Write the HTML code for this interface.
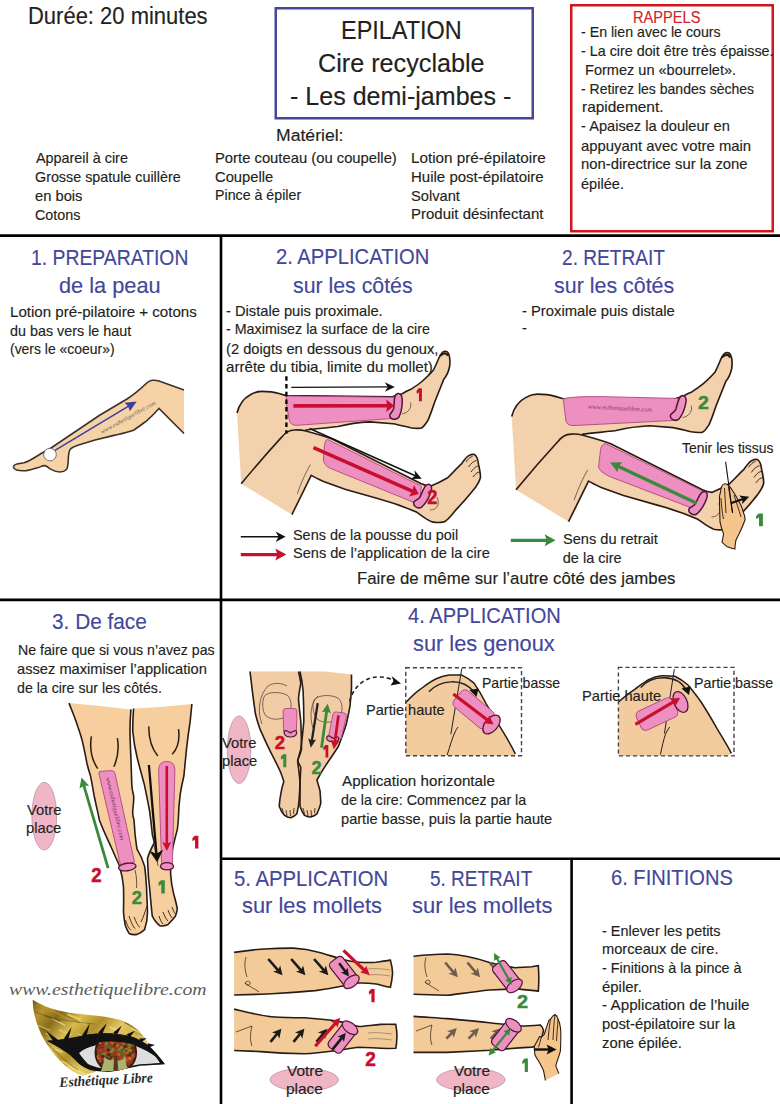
<!DOCTYPE html>
<html><head><meta charset="utf-8"><style>
html,body{margin:0;padding:0;background:#fff;}
body{width:780px;height:1104px;position:relative;overflow:hidden;font-family:"Liberation Sans",sans-serif;}
.t{position:absolute;white-space:pre;line-height:1;transform-origin:0 0;-webkit-text-stroke:0.15px currentColor;}
svg{position:absolute;left:0;top:0;}
</style></head><body>
<svg width="780" height="1104" viewBox="0 0 780 1104"><path d="M13.5,466.5 C14,463.5 19,463.6 24,462.8 C30,461 36,456.5 42,453 L51,448 L100,415 L127,399 C133,395 137,391.5 140,389.2 C145,385 148,380.6 152,380.3 C155,380 157,380.4 159,381 L184,390 L184,433.5 L159,408.5 C155,413 150,418 146,421.3 C141,425 137,428 133.5,430.3 C126,433 120,434 114,435.4 L95,440 L77,445.6 C73,447 70,448 69.6,450.5 C68.3,454 68.3,458 68.2,461 C68,465 67.8,468 66.5,469.5 C64.5,471.5 62,472 60,472 C56,472 53,470.5 51,469.4 C48.5,468 46.5,465.8 45,465.6 C42.5,465.5 40.5,466.8 38.3,467.6 C33,469.3 28,470.6 25.6,470.7 C22,470.9 18.5,470.6 16.7,470.1 C14.6,469.3 13.2,468.3 13.5,466.5 Z" fill="#f6d3a6"/><path d="M13.5,466.5 C14,463.5 19,463.6 24,462.8 C30,461 36,456.5 42,453 L51,448 L100,415 L127,399 C133,395 137,391.5 140,389.2 C145,385 148,380.6 152,380.3 C155,380 157,380.4 159,381 L184,390" fill="none" stroke="#3b322d" stroke-width="1.6"/><path d="M184,433.5 159,408.5 C155,413 150,418 146,421.3 C141,425 137,428 133.5,430.3 C126,433 120,434 114,435.4 L95,440 L77,445.6 C73,447 70,448 69.6,450.5 C68.3,454 68.3,458 68.2,461 C68,465 67.8,468 66.5,469.5 C64.5,471.5 62,472 60,472 C56,472 53,470.5 51,469.4 C48.5,468 46.5,465.8 45,465.6 C42.5,465.5 40.5,466.8 38.3,467.6 C33,469.3 28,470.6 25.6,470.7 C22,470.9 18.5,470.6 16.7,470.1 C14.6,469.3 13.2,468.3 13.5,466.5" fill="none" stroke="#3b322d" stroke-width="1.6"/><circle cx="50" cy="454.6" r="6.3" fill="#fff" stroke="#555" stroke-width="0.8"/><line x1="55.0" y1="450.3" x2="128.6" y2="406.2" stroke="#3c3fa0" stroke-width="1.5"/><path d="M136.7,401.4 L129.8,411.3 L128.2,406.5 L124.7,402.8 Z" fill="#3c3fa0"/><text x="0" y="0" transform="translate(102,434) rotate(-29)" font-family="Liberation Serif" font-style="italic" font-size="6.2" fill="#6d5d52">www.esthetiquelibre.com</text><defs><g id="legs2"><path d="M237,413 C239,405 244,398 250.4,394.7 C255,392 258,391.4 261.7,391.4 C268,391.4 274,392 279,393.5 L286,395.6 L392,396.8 C396,395.5 399,394.5 402.3,393.7 C405,392 408,390.5 410.4,389.6 C416,386 419,384 421.9,381.5 C427,377 431,373 433.5,370 C436.5,364 438,360 439.2,357.3 C440.8,354 442,352 443.8,351.5 C446,351 448,352 448.6,353.5 C450,357 450.2,362 449.6,366.5 C448.5,372 446.5,376 443.8,379.2 L434.6,402.3 C432,410 430,416 427.7,420.8 C425,425 423,428 420.8,428.3 C417,428.6 413,428.2 410.4,427.7 C404,426.2 398,424.5 393,423.7 L370,421.9 C358,422.5 348,424 338,426.5 C326,428 315,428.8 305,430.2 L295,430 L282,437 L241.2,483.8 Z" fill="#f3d1ad"/><path d="M237,413 C239,405 244,398 250.4,394.7 C255,392 258,391.4 261.7,391.4 C268,391.4 274,392 279,393.5 L286,395.6 L392,396.8 C396,395.5 399,394.5 402.3,393.7 C405,392 408,390.5 410.4,389.6 C416,386 419,384 421.9,381.5 C427,377 431,373 433.5,370 C436.5,364 438,360 439.2,357.3 C440.8,354 442,352 443.8,351.5 C446,351 448,352 448.6,353.5 C450,357 450.2,362 449.6,366.5 C448.5,372 446.5,376 443.8,379.2 L434.6,402.3 C432,410 430,416 427.7,420.8 C425,425 423,428 420.8,428.3 C417,428.6 413,428.2 410.4,427.7 C404,426.2 398,424.5 393,423.7 L370,421.9 C358,422.5 348,424 338,426.5 C326,428 315,428.8 305,430.2" fill="none" stroke="#2a1c14" stroke-width="1.6"/><path d="M241.2,483.8 C255,467 268,452 281.9,436.9 C285,433 290,430.2 294.2,430 C298,429.7 302,430 305,430.8 C315,433.5 324,436 332.7,439.2 L420.8,483.5 C424,485 427,486 430.4,486.3 C436,484 442,481 447.7,477.7 C453,472.5 457,468 461.2,464.2 C464,460.5 466,457 468.8,455.6 C471,454.5 473,454 474.6,454.6 C477,456 478,460 478.5,464.2 C479.5,469 480.8,473 480.4,477.7 C478.5,485 474,489 470.8,493.1 C465.5,500 460.5,505 455.4,510.4 C451,516 447,521 443.8,521.9 C440,522.6 436,522.6 432.3,521.9 C426,519.5 421,515 416.9,512.3 C405,507 392,502.5 378.5,498.8 L345,489.2 C336,486 329,483.5 323.5,481.5 C318,479 314,477 311.2,475.4 L291.9,514.6 Z" fill="#f3d1ad"/><path d="M241.2,483.8 C255,467 268,452 281.9,436.9 C285,433 290,430.2 294.2,430 C298,429.7 302,430 305,430.8 C315,433.5 324,436 332.7,439.2 L420.8,483.5 C424,485 427,486 430.4,486.3 C436,484 442,481 447.7,477.7 C453,472.5 457,468 461.2,464.2 C464,460.5 466,457 468.8,455.6 C471,454.5 473,454 474.6,454.6 C477,456 478,460 478.5,464.2 C479.5,469 480.8,473 480.4,477.7 C478.5,485 474,489 470.8,493.1 C465.5,500 460.5,505 455.4,510.4 C451,516 447,521 443.8,521.9 C440,522.6 436,522.6 432.3,521.9 C426,519.5 421,515 416.9,512.3 C405,507 392,502.5 378.5,498.8 L345,489.2 C336,486 329,483.5 323.5,481.5 C318,479 314,477 311.2,475.4 L291.9,514.6" fill="none" stroke="#2a1c14" stroke-width="1.6"/><path d="M440,356 C444,352 447,353 448,356" fill="none" stroke="#2a1c14" stroke-width="2.2"/><path d="M410.5,402.5 C412,408 408,413 402,414" fill="none" stroke="#2a1c14" stroke-width="0.6"/><path d="M437,497 C440,503 438,510 430,510" fill="none" stroke="#2a1c14" stroke-width="0.6"/><path d="M466,462 C468,459 470,457 472.5,456.5 M468.5,467 C471,463.5 473.5,461 476.5,460.5 M471,472 C473.5,468.5 476,466 478.8,466 M473,477 C475,474 477.5,472 480,472" fill="none" stroke="#2a1c14" stroke-width="0.9"/><path d="M297.3,493.8 C301,483 306,472 310.4,464.6" fill="none" stroke="#2a1c14" stroke-width="0.6"/></g></defs><use href="#legs2"/><path d="M286.4,396 L397,397.3 L396,418.2 L297,425.3 Q290.5,425.8 289.2,419.5 L286.4,404 Z" fill="#ee8fc2" stroke="#b0467e" stroke-width="0.9"/><path d="M327.5,439.4 L421.5,486.2 L419,504.5 L331,468.6 Q323,465.5 323.4,458 L324.5,444.5 Q325.3,439.3 327.5,439.4 Z" fill="#ee8fc2" stroke="#b0467e" stroke-width="0.9"/><path d="M2.6,-13 C5.3,-12.5 6.3,-8.5 6,-3.5 C5.8,2.5 4.3,7.5 2.6,10.8 C0.8,13 -1.7,13.1 -3.7,12.5 C-6.2,11.5 -6.9,9.5 -6.2,8 C-4.7,5.5 -2.7,4 -2.4,1.5 C-2.2,-2.5 -2,-6.5 -1.4,-9.5 C-0.7,-12 0.8,-13.2 2.6,-13 Z" transform="translate(396.2,406.5)" fill="#ee8fc2" stroke="#4d1737" stroke-width="1.5"/><path d="M2.6,-13 C5.3,-12.5 6.3,-8.5 6,-3.5 C5.8,2.5 4.3,7.5 2.6,10.8 C0.8,13 -1.7,13.1 -3.7,12.5 C-6.2,11.5 -6.9,9.5 -6.2,8 C-4.7,5.5 -2.7,4 -2.4,1.5 C-2.2,-2.5 -2,-6.5 -1.4,-9.5 C-0.7,-12 0.8,-13.2 2.6,-13 Z" transform="translate(423,496) rotate(20)" fill="#ee8fc2" stroke="#4d1737" stroke-width="1.5"/><line x1="286.4" y1="376.3" x2="286.4" y2="433.5" stroke="#000" stroke-width="2.3" stroke-dasharray="4.5 3.2"/><line x1="291.3" y1="387.4" x2="388.3" y2="386.9" stroke="#111" stroke-width="1.4"/><path d="M394.8,386.9 L384.8,391.7 L387.8,386.9 L384.8,382.2 Z" fill="#111"/><line x1="293.4" y1="405.9" x2="387.7" y2="405.8" stroke="#c8102e" stroke-width="3.6"/><path d="M394.2,405.8 L386.2,412.1 L387.2,405.8 L386.2,399.6 Z" fill="#c8102e"/><line x1="309.6" y1="428.5" x2="415.8" y2="476.0" stroke="#111" stroke-width="1.4"/><path d="M421.7,478.7 L410.6,478.9 L415.3,475.8 L414.5,470.3 Z" fill="#111"/><line x1="313.5" y1="447.7" x2="412.8" y2="491.4" stroke="#c8102e" stroke-width="3.6"/><path d="M418.8,494.0 L409.0,496.5 L412.4,491.2 L414.0,485.1 Z" fill="#c8102e"/><line x1="240.8" y1="536.7" x2="279.1" y2="536.7" stroke="#111" stroke-width="1.6"/><path d="M285.6,536.7 L275.6,542.0 L278.6,536.7 L275.6,531.5 Z" fill="#111"/><line x1="240.8" y1="554.6" x2="278.0" y2="554.6" stroke="#c8102e" stroke-width="3.3"/><path d="M286.3,554.6 L275.3,560.6 L277.5,554.6 L275.3,548.6 Z" fill="#c8102e"/><use href="#legs2" transform="matrix(1.035 0 0 1.035 266.4 -10.9)"/><path d="M563.7,398.5 C575,396.5 590,396.5 605,396.7 L680,398.5 L677,420.3 L575,425.5 Q567,426 566,421 L563.7,403 Z" fill="#ee8fc2" stroke="#b0467e" stroke-width="0.9"/><path d="M605.5,443.6 L703,491.2 L697,510 L610,476.7 Q599.5,472 598.6,466.7 L600.5,450 Q601.5,443.8 605.5,443.6 Z" fill="#ee8fc2" stroke="#b0467e" stroke-width="0.9"/><path d="M2.6,-13 C5.3,-12.5 6.3,-8.5 6,-3.5 C5.8,2.5 4.3,7.5 2.6,10.8 C0.8,13 -1.7,13.1 -3.7,12.5 C-6.2,11.5 -6.9,9.5 -6.2,8 C-4.7,5.5 -2.7,4 -2.4,1.5 C-2.2,-2.5 -2,-6.5 -1.4,-9.5 C-0.7,-12 0.8,-13.2 2.6,-13 Z" transform="translate(678.6,408) rotate(12)" fill="#ee8fc2" stroke="#4d1737" stroke-width="1.5"/><path d="M2.6,-13 C5.3,-12.5 6.3,-8.5 6,-3.5 C5.8,2.5 4.3,7.5 2.6,10.8 C0.8,13 -1.7,13.1 -3.7,12.5 C-6.2,11.5 -6.9,9.5 -6.2,8 C-4.7,5.5 -2.7,4 -2.4,1.5 C-2.2,-2.5 -2,-6.5 -1.4,-9.5 C-0.7,-12 0.8,-13.2 2.6,-13 Z" transform="translate(698.4,503) rotate(22)" fill="#ee8fc2" stroke="#4d1737" stroke-width="1.5"/><text x="0" y="0" transform="translate(588,408.5) rotate(3)" font-family="Liberation Serif" font-style="italic" font-size="6.4" fill="#8a3a6a">www.esthetiquelibre.com</text><line x1="696.7" y1="503.3" x2="618.0" y2="466.3" stroke="#3a8a3c" stroke-width="3.4"/><path d="M610.0,462.5 L622.3,462.2 L618.5,466.5 L617.6,472.2 Z" fill="#3a8a3c"/><path d="M724.6,483.8 C722,484 721,488 720.5,492 L719.5,496.2 C719.5,505 719.8,514 720,521.8 C721,527 722.5,531 723.6,534.1 C723,537 722.5,540 722,542.3 L726.7,546.4 C729,547.5 732,548.5 734.9,549 C735,546 735.3,543 735.9,540.3 C737,538 738,536 739,534.1 C741.5,529 743.5,524 745.1,519.7 C745,516 744,513.5 743.1,511.5 C742.5,509 741.8,507 741,505.4 C738,500 735.5,495 732.8,491 C731,488 729.5,486 727.7,484.9 C726.5,484 725.5,483.7 724.6,483.8 Z" fill="#f5c58c" stroke="#2a1c14" stroke-width="1.1"/><path d="M724.5,488 C725,497 725.5,505 726,513 M728.5,487 C730,496 731,504 732.5,513 M734,495 C736.5,503 739,510 741,517 M721,498 C721.5,505 722,512 723.5,519" fill="none" stroke="#2a1c14" stroke-width="0.9"/><line x1="725.6" y1="461.8" x2="732.6" y2="513" stroke="#111" stroke-width="1.1"/><line x1="730.8" y1="503.3" x2="742.9" y2="499.0" stroke="#111" stroke-width="2.2"/><path d="M749.2,496.7 L742.2,504.0 L742.4,499.1 L739.2,495.5 Z" fill="#111"/><line x1="510.8" y1="540.3" x2="547.3" y2="540.3" stroke="#3a8a3c" stroke-width="3.2"/><path d="M555.6,540.3 L544.6,546.3 L546.8,540.3 L544.6,534.3 Z" fill="#3a8a3c"/><path d="M69,703.1 C72,711 75.5,719 78,727.3 C80,733 82,739 83.3,745.3 C84.5,751 85.8,757 86.9,763.2 C88,768 89.3,772 90.5,775.8 C91.8,782 93,789 94.1,795.5 C95.8,804 97.8,812 99.4,820 C103,830 108,840 111.9,848.8 C114.5,855 117.5,861 119.6,866.2 C121.5,873 123,880 123.5,887.3 C123.8,896 123.6,904 123.5,912.3 C123.8,917 124.5,922 125.4,925.8 C126.5,929 127.8,931.5 129.2,933.5 C131.5,934.8 134,934.8 136.9,934.4 C139.8,933.5 142.5,931.5 144.6,929.6 C146.5,924 147.5,918 147.5,912.3 C147.3,904 146.8,895 146.5,887.3 C146,880 145.5,872 144.6,866.2 C142.5,859 139.5,853 136.9,848.8 C135.5,840 134.5,830 134,820 C133,817 132.5,814 132.7,811.7 C133,806 134.2,800 133.6,795.5 C132.5,791 131.9,788 131.8,784.8 C131.5,775 131.2,766 130.9,757.8 C130.5,748 130,739 130,730.9 C130,723 130.4,716 130.9,709.4 L100,706 Z" fill="#f7cf9e"/><path d="M133.6,708.5 C133,716 132.7,723 132.7,730.9 C133.5,740 135,749 137.2,757.8 C139.5,767 142,776 144.4,784.8 C146.3,794 148.2,803 149.7,811.7 C150.5,818 151.3,824 152.4,835 C153.5,839 154.2,841 154.2,843 C151.5,848 149,853 147.5,858.5 C147.8,865 148.1,871 148.5,877.7 C149.2,884 149.8,890 150.4,896.9 C151,903 151.5,910 152.3,916.2 C154.5,920.5 157,923.8 160,925.8 C162.5,926.3 165,925.7 167.7,924.8 C170.5,922 173.2,919 175.4,916.2 C176.5,913.5 177.2,911 177.3,908.5 C176.2,903 174.8,898 173.5,893.1 C172,887 171,880 170.6,873.8 C170.6,867 170.9,860 171.5,854.6 C173,846 175.3,837 177.3,829.6 C177.8,826 178.1,823 178.3,820 C178.5,812 179,803 180.3,793.7 C181.4,787 182.7,781 183.9,775.8 C184.8,767 185.6,758 186.5,748.9 C187.5,740 188.7,731 190.1,721.9 C190.7,716 191.3,710 191.9,704 L160,707 Z" fill="#f7cf9e"/><path d="M69,703.1 C72,711 75.5,719 78,727.3 C80,733 82,739 83.3,745.3 C84.5,751 85.8,757 86.9,763.2 C88,768 89.3,772 90.5,775.8 C91.8,782 93,789 94.1,795.5 C95.8,804 97.8,812 99.4,820 C103,830 108,840 111.9,848.8 C114.5,855 117.5,861 119.6,866.2 C121.5,873 123,880 123.5,887.3 C123.8,896 123.6,904 123.5,912.3 C123.8,917 124.5,922 125.4,925.8 C126.5,929 127.8,931.5 129.2,933.5 C131.5,934.8 134,934.8 136.9,934.4 C139.8,933.5 142.5,931.5 144.6,929.6 C146.5,924 147.5,918 147.5,912.3 C147.3,904 146.8,895 146.5,887.3 C146,880 145.5,872 144.6,866.2 C142.5,859 139.5,853 136.9,848.8 C135.5,840 134.5,830 134,820 C133,817 132.5,814 132.7,811.7 C133,806 134.2,800 133.6,795.5 C132.5,791 131.9,788 131.8,784.8 C131.5,775 131.2,766 130.9,757.8 C130.5,748 130,739 130,730.9 C130,723 130.4,716 130.9,709.4" fill="none" stroke="#2a1c14" stroke-width="1.6"/><path d="M133.6,708.5 C133,716 132.7,723 132.7,730.9 C133.5,740 135,749 137.2,757.8 C139.5,767 142,776 144.4,784.8 C146.3,794 148.2,803 149.7,811.7 C150.5,818 151.3,824 152.4,835 C153.5,839 154.2,841 154.2,843 C151.5,848 149,853 147.5,858.5 C147.8,865 148.1,871 148.5,877.7 C149.2,884 149.8,890 150.4,896.9 C151,903 151.5,910 152.3,916.2 C154.5,920.5 157,923.8 160,925.8 C162.5,926.3 165,925.7 167.7,924.8 C170.5,922 173.2,919 175.4,916.2 C176.5,913.5 177.2,911 177.3,908.5 C176.2,903 174.8,898 173.5,893.1 C172,887 171,880 170.6,873.8 C170.6,867 170.9,860 171.5,854.6 C173,846 175.3,837 177.3,829.6 C177.8,826 178.1,823 178.3,820 C178.5,812 179,803 180.3,793.7 C181.4,787 182.7,781 183.9,775.8 C184.8,767 185.6,758 186.5,748.9 C187.5,740 188.7,731 190.1,721.9 C190.7,716 191.3,710 191.9,704" fill="none" stroke="#2a1c14" stroke-width="1.6"/><path d="M91.4,736.3 C89.5,748 92,760 97.7,768.6 M117.4,738.1 C119,748 118,758 113.8,766.8 M148.9,726.4 C148.5,738 151.5,748 157.8,756 M178.5,729.1 C180,740 178,748 172.2,754.2" fill="none" stroke="#2a1c14" stroke-width="1.5"/><path d="M125.5,920 C127,925 129,929 131,930 M129,916 C131,922 133,927 135.5,929 M134,917 C136,922 138,926 140,927.5 M147,906 C145,912 143,918 141,922" fill="none" stroke="#2a1c14" stroke-width="0.9"/><path d="M159,916 C160,919 161,922 163,924 M163,912 C164.5,916 166,919 168,921 M168,910 C169,913 170.5,916 172,918 M172,907 C173,910 174,912 175.5,914" fill="none" stroke="#2a1c14" stroke-width="0.9"/><path d="M135,870 C136.5,876 137,882 136.5,888 M154,845 C155.5,852 157,860 158,866" fill="none" stroke="#2a1c14" stroke-width="0.7"/><path d="M99,774 Q98,771.5 101,771.3 L111.5,770.6 Q114.2,770.6 115,773.5 L134.5,862 L120.5,865 Z" fill="#ee8fc2" stroke="#b0467e" stroke-width="0.9"/><path d="M158.6,770 Q158.8,761.5 166.7,761.4 Q174.8,761.5 174.9,770 L172.4,864 L161.6,864 Z" fill="#ee8fc2" stroke="#b0467e" stroke-width="0.9"/><ellipse cx="127.3" cy="867" rx="8.8" ry="3.8" transform="rotate(-8 127.3 867)" fill="#ee8fc2" stroke="#4d1737" stroke-width="1.3"/><ellipse cx="167" cy="866.3" rx="6.6" ry="3.6" fill="#ee8fc2" stroke="#4d1737" stroke-width="1.3"/><text x="0" y="0" transform="translate(106,778) rotate(77)" font-family="Liberation Serif" font-style="italic" font-size="6.4" fill="#7a2d60">www.esthetiquelibre.com</text><line x1="166.8" y1="766.0" x2="166.8" y2="843.9" stroke="#c8102e" stroke-width="2.6"/><path d="M166.8,851.0 L162.3,842.0 L166.8,843.4 L171.3,842.0 Z" fill="#c8102e"/><line x1="148.9" y1="765.0" x2="156.5" y2="854.3" stroke="#111" stroke-width="2.3"/><path d="M157.2,862.2 L149.2,850.8 L156.5,853.8 L163.2,849.6 Z" fill="#111"/><line x1="108.1" y1="868.1" x2="83.8" y2="785.3" stroke="#3a8a3c" stroke-width="2.8"/><path d="M81.5,777.6 L89.1,785.8 L83.9,785.8 L79.5,788.6 Z" fill="#3a8a3c"/><ellipse cx="44.25" cy="816.2" rx="12.4" ry="33.9" fill="#f1b6c5" stroke="#a88090" stroke-width="0.6"/><path d="M250,671.5 C250.8,678 251.6,684 252.3,690.8 C253.3,698 254.3,706 255.4,713.8 C256.6,719 258.2,724 260,729.2 C263.5,737 267,745 270.8,752.3 C274,758.5 277,764.5 280,770.8 C281.5,774.5 282.8,778 283.8,781.5 C282.5,785.5 281.5,789.5 280.8,793.8 C280,798 279.5,802 279.2,806.2 C280.5,810 282.3,813 284.6,815.4 C286.5,817 288.6,817.8 290.8,817.7 C293,817 295.2,815.7 296.9,813.8 C298.2,808.5 299,803.5 299.2,798.5 C299.6,792.5 300,787 300,781.5 C299.5,776.5 299,772 298.5,767.7 C298,765 297.7,762.5 297.7,760 C299.3,756.5 300.8,753 301.5,749.2 C301.5,740 301.2,730 300.8,721.5 C300,714 299,706 298.5,698.5 C299,693 300,688 300.8,683.1 C300.2,679 299.4,675 298.5,671.5 Z" fill="#f2cca4"/><path d="M300,671.5 C301.5,678 302.5,684 303.1,690.8 C303.6,701 303.8,711 303.8,721.5 C303,731 302,740 300.8,749.2 C299.5,753.5 298.4,757.5 297.7,761.5 C298.8,763.5 300,765.5 300.8,767.7 C300.5,773 300.2,778 300,783.1 C300,791 300,799 300,806.2 C301.2,810 302.7,813 304.6,815.4 C306.5,816.6 308.6,817.1 310.8,816.9 C313,816.3 315.2,815.2 316.9,813.8 C318.5,810.5 320,807 320.8,803.1 C320.6,799 320.4,795 320,790.8 C319,787 318,783.5 316.9,780 C320,774.5 323,769.5 326.2,764.6 C330.3,758.5 334.5,752.5 338.5,746.2 C341.2,739 343.8,732 346.2,724.6 C347.6,718.5 348.9,712.5 350,706.2 C350.6,700 351.1,694 351.5,687.7 C351.5,683 351.5,679 351.5,674.6 L325,671.5 Z" fill="#f2cca4"/><path d="M250,671.5 C250.8,678 251.6,684 252.3,690.8 C253.3,698 254.3,706 255.4,713.8 C256.6,719 258.2,724 260,729.2 C263.5,737 267,745 270.8,752.3 C274,758.5 277,764.5 280,770.8 C281.5,774.5 282.8,778 283.8,781.5 C282.5,785.5 281.5,789.5 280.8,793.8 C280,798 279.5,802 279.2,806.2 C280.5,810 282.3,813 284.6,815.4 C286.5,817 288.6,817.8 290.8,817.7 C293,817 295.2,815.7 296.9,813.8 C298.2,808.5 299,803.5 299.2,798.5 C299.6,792.5 300,787 300,781.5 C299.5,776.5 299,772 298.5,767.7 C298,765 297.7,762.5 297.7,760 C299.3,756.5 300.8,753 301.5,749.2 C301.5,740 301.2,730 300.8,721.5 C300,714 299,706 298.5,698.5 C299,693 300,688 300.8,683.1 C300.2,679 299.4,675 298.5,671.5" fill="none" stroke="#2a1c14" stroke-width="1.6"/><path d="M300,671.5 C301.5,678 302.5,684 303.1,690.8 C303.6,701 303.8,711 303.8,721.5 C303,731 302,740 300.8,749.2 C299.5,753.5 298.4,757.5 297.7,761.5 C298.8,763.5 300,765.5 300.8,767.7 C300.5,773 300.2,778 300,783.1 C300,791 300,799 300,806.2 C301.2,810 302.7,813 304.6,815.4 C306.5,816.6 308.6,817.1 310.8,816.9 C313,816.3 315.2,815.2 316.9,813.8 C318.5,810.5 320,807 320.8,803.1 C320.6,799 320.4,795 320,790.8 C319,787 318,783.5 316.9,780 C320,774.5 323,769.5 326.2,764.6 C330.3,758.5 334.5,752.5 338.5,746.2 C341.2,739 343.8,732 346.2,724.6 C347.6,718.5 348.9,712.5 350,706.2 C350.6,700 351.1,694 351.5,687.7 C351.5,683 351.5,679 351.5,674.6" fill="none" stroke="#2a1c14" stroke-width="1.6"/><path d="M264,697 C266,692 278,691 287,695 C292,699 292,708 289,714 C284,720 272,721 266,716 C262,711 262,702 264,697 Z" fill="none" stroke="#5a4a40" stroke-width="0.8"/><path d="M262,724 C257,712 259,695 268,686 C274,682 282,683 287,686" fill="none" stroke="#5a4a40" stroke-width="0.8"/><path d="M314,700 C318,695 330,694 338,698 C343,702 343,711 340,717 C335,723 323,724 317,719 C313,714 312,705 314,700 Z" fill="none" stroke="#5a4a40" stroke-width="0.8"/><path d="M313,728 C309,716 311,702 318,696" fill="none" stroke="#5a4a40" stroke-width="0.8"/><path d="M282,808 L283.5,814 M286,810 L287,816 M290,810 L290.5,816 M294,808 L293.5,814 M303,808 L304.5,814 M307,810 L308,816 M311,810 L311.5,816 M315,808 L314.5,813" fill="none" stroke="#2a1c14" stroke-width="0.8"/><path d="M283.1,711 Q283.1,708.5 286,708.5 L294,708.5 Q296.9,708.5 296.9,711 L296.4,731.8 L283.6,731.8 Z" fill="#ee8fc2" stroke="#b0467e" stroke-width="0.9"/><path d="M284.6,731 C287,729 289,733 290.5,733 C292,733 294,729 296.2,731 C297.5,733 296.5,737 290.4,737 C284.5,737 283.5,733 284.6,731 Z" fill="#ee8fc2" stroke="#4d1737" stroke-width="1.2"/><path d="M333,714 Q333.5,711.5 336.5,712 L344,713 Q347,713.5 346.4,716.5 L341,739 L328.5,737 Z" fill="#ee8fc2" stroke="#b0467e" stroke-width="0.9"/><path d="M327,736.5 C329.5,734.5 331.5,738 333,738.2 C334.5,738.4 337,735.5 338.5,737.5 C339.5,739.5 338,742 332.5,741.8 C327,741.5 325.8,738.5 327,736.5 Z" fill="#ee8fc2" stroke="#4d1737" stroke-width="1.2"/><line x1="317.7" y1="703.1" x2="311.8" y2="741.1" stroke="#222" stroke-width="2.3"/><path d="M310.8,747.7 L308.2,738.2 L311.9,740.6 L316.1,739.4 Z" fill="#222"/><line x1="321.5" y1="747.7" x2="326.7" y2="710.9" stroke="#3a8a3c" stroke-width="2.8"/><path d="M327.7,703.8 L330.9,713.3 L326.6,711.4 L322.0,712.1 Z" fill="#3a8a3c"/><line x1="338.5" y1="715.4" x2="334.8" y2="742.1" stroke="#c8102e" stroke-width="2.8"/><path d="M333.8,749.2 L330.6,739.7 L334.9,741.6 L339.5,740.9 Z" fill="#c8102e"/><ellipse cx="239.1" cy="749.7" rx="11.8" ry="33.8" fill="#f1b6c5" stroke="#a88090" stroke-width="0.6"/><path d="M349.7,701.4 C352,690 362,678 376.5,677 C384,676.5 390,678.5 394,680.5" fill="none" stroke="#222" stroke-width="1.6" stroke-dasharray="4 3"/><path d="M401,683.5 L391.5,676 L393.5,681 L390.5,685.5 Z" fill="#111"/><path d="M405.8,702.6 C410,698 415,693 420.4,689.2 C426,685 431,681 437.4,678.3 C441.5,676.5 445.5,675.3 449.6,675.1 C453.5,674.9 457.5,674.9 461.8,675.1 C466,677 470,679.5 474,683.1 C478.5,689.5 482.5,696.5 486.2,703.8 C491,711.5 496,720 500.8,728.2 C506,736.5 511,745 515.4,753.8 L515.5,755.7 L405.8,755.7 Z" fill="#f2cc9e"/><path d="M405.8,702.6 C410,698 415,693 420.4,689.2 C426,685 431,681 437.4,678.3 C441.5,676.5 445.5,675.3 449.6,675.1 C453.5,674.9 457.5,674.9 461.8,675.1 C466,677 470,679.5 474,683.1 C478.5,689.5 482.5,696.5 486.2,703.8 C491,711.5 496,720 500.8,728.2 C506,736.5 511,745 515.4,753.8" fill="none" stroke="#2a1c14" stroke-width="1.5"/><rect x="405.8" y="667.8" width="115.69999999999999" height="87.90000000000009" fill="none" stroke="#444" stroke-width="1.4" stroke-dasharray="4.2 2.8"/><path d="M447.2,755 C450,746 452.5,737 455.7,730.6 C456.5,729 457.3,728 458.1,727" fill="none" stroke="#2a1c14" stroke-width="1"/><line x1="461.8" y1="668.5" x2="450.8" y2="734.3" stroke="#222" stroke-width="1"/><path d="M428.9,691.7 C440,680 462,677 474,692" fill="none" stroke="#222" stroke-width="1.4"/><path d="M476.5,697 L469.5,690 L478.5,688.5 Z" fill="#111"/><rect x="-22" y="-10.5" width="42" height="21" rx="5" transform="translate(474.5,710) rotate(40)" fill="#ee8fc2" stroke="#b0467e" stroke-width="0.9"/><ellipse cx="0" cy="0" rx="6.5" ry="11" transform="translate(491.5,724.5) rotate(40)" fill="#ee8fc2" stroke="#4d1737" stroke-width="1.3"/><line x1="453.3" y1="694.1" x2="487.8" y2="720.3" stroke="#c8102e" stroke-width="3.2"/><path d="M493.5,724.6 L483.3,723.1 L487.4,720.0 L489.4,715.2 Z" fill="#c8102e"/><path d="M618.4,702 C623.5,697.5 629.5,693 635.4,688.9 C640,685.5 644,682.3 648.6,679.7 C653,677.5 657.5,676.2 661.7,675.8 C666,675.7 670.5,675.9 674.9,676.3 C679.5,678.5 684,681.5 688,685 C692.5,690.5 697,696 701.1,702 C706.5,710.5 712,719.5 716.9,728.3 C722,737 727,745 731.4,753.3 L728,755.9 L618.4,755.9 Z" fill="#f2cc9e"/><path d="M618.4,702 C623.5,697.5 629.5,693 635.4,688.9 C640,685.5 644,682.3 648.6,679.7 C653,677.5 657.5,676.2 661.7,675.8 C666,675.7 670.5,675.9 674.9,676.3 C679.5,678.5 684,681.5 688,685 C692.5,690.5 697,696 701.1,702 C706.5,710.5 712,719.5 716.9,728.3 C722,737 727,745 731.4,753.3" fill="none" stroke="#2a1c14" stroke-width="1.5"/><rect x="618.4" y="667.4" width="115.60000000000002" height="88.5" fill="none" stroke="#444" stroke-width="1.4" stroke-dasharray="4.2 2.8"/><path d="M660.4,754.6 C662,747 663.5,740 665.7,733.6 C667,731 668.3,729 669.6,727" fill="none" stroke="#2a1c14" stroke-width="1"/><line x1="674.3" y1="669.2" x2="664.4" y2="733.6" stroke="#222" stroke-width="1"/><path d="M640.7,687.6 C652,674 678,674 686,690" fill="none" stroke="#222" stroke-width="1.4"/><path d="M689,695 L681.5,688.5 L690.5,686.5 Z" fill="#111"/><rect x="-20" y="-10.5" width="40" height="21" rx="5" transform="translate(657,714) rotate(-25)" fill="#ee8fc2" stroke="#b0467e" stroke-width="0.9"/><ellipse cx="0" cy="0" rx="6.5" ry="11" transform="translate(680.5,702) rotate(-25)" fill="#ee8fc2" stroke="#4d1737" stroke-width="1.3"/><line x1="635.4" y1="724.4" x2="673.9" y2="701.7" stroke="#c8102e" stroke-width="3.2"/><path d="M680.1,698.1 L674.9,707.0 L673.5,702.0 L669.8,698.4 Z" fill="#c8102e"/><path d="M234.1,952.4 C243,951 252,949.8 260.7,949.2 C272,948.5 283,948 293.4,948.1 C302,948.5 311,950 319.5,952.4 C327,954.5 334,957 341.3,959 C347,960.5 353,961.8 358.8,962.2 C364.5,962.5 370.5,962.5 376.2,962.2 C381,961.5 386,960.8 390.4,960.1 C391.5,964 392.4,968.5 392.6,973.1 C392.2,978 391.5,983 390.4,987.3 C385.5,986.5 381,985 376.2,984 C370.5,983.3 364.5,982.8 358.8,983 C353,983.5 347,985 341.3,986.2 C333,988 324,989.5 315.2,990.6 C300,992 286,993 271.6,993.8 C259,994.3 246,994.7 234.1,995 Z" fill="#f2cb98"/><path d="M234.1,952.4 C243,951 252,949.8 260.7,949.2 C272,948.5 283,948 293.4,948.1 C302,948.5 311,950 319.5,952.4 C327,954.5 334,957 341.3,959 C347,960.5 353,961.8 358.8,962.2 C364.5,962.5 370.5,962.5 376.2,962.2 C381,961.5 386,960.8 390.4,960.1 C391.5,964 392.4,968.5 392.6,973.1 C392.2,978 391.5,983 390.4,987.3 C385.5,986.5 381,985 376.2,984 C370.5,983.3 364.5,982.8 358.8,983 C353,983.5 347,985 341.3,986.2 C333,988 324,989.5 315.2,990.6 C300,992 286,993 271.6,993.8 C259,994.3 246,994.7 234.1,995" fill="none" stroke="#2a1c14" stroke-width="1.6"/><path d="M234.1,1009.1 C246,1012 259,1015.5 271.6,1016.7 C282,1017.5 293,1017.8 304.3,1017.8 C315,1018.5 326,1019.5 337,1021.1 C344.5,1022.5 351.5,1024.5 358.8,1026.5 C366,1026 373,1025 380.6,1024.4 C385.5,1024.2 390.5,1024.2 395.8,1024.4 C396.5,1028.5 397,1033 396.9,1037.4 C396.8,1041 396.5,1045 395.8,1048.3 C390.5,1048.5 385.5,1048.5 380.6,1048.3 C373,1048 366,1047.2 358.8,1047.2 C351.5,1048 344,1049.5 337,1050.5 C326,1052 315,1053.5 304.3,1053.8 C290,1053.5 275,1052.8 260.7,1051.6 C251.5,1051.2 242.5,1050.8 234.1,1050.5 Z" fill="#f2cb98"/><path d="M234.1,1009.1 C246,1012 259,1015.5 271.6,1016.7 C282,1017.5 293,1017.8 304.3,1017.8 C315,1018.5 326,1019.5 337,1021.1 C344.5,1022.5 351.5,1024.5 358.8,1026.5 C366,1026 373,1025 380.6,1024.4 C385.5,1024.2 390.5,1024.2 395.8,1024.4 C396.5,1028.5 397,1033 396.9,1037.4 C396.8,1041 396.5,1045 395.8,1048.3 C390.5,1048.5 385.5,1048.5 380.6,1048.3 C373,1048 366,1047.2 358.8,1047.2 C351.5,1048 344,1049.5 337,1050.5 C326,1052 315,1053.5 304.3,1053.8 C290,1053.5 275,1052.8 260.7,1051.6 C251.5,1051.2 242.5,1050.8 234.1,1050.5" fill="none" stroke="#2a1c14" stroke-width="1.6"/><path d="M413.5,956.2 C425,955 436,954.2 447.3,954 C462,954.5 476,958 489.6,962.5 C498,964.8 506.5,966.5 515,967.8 C520.5,967.5 526,967 531.9,966.7 C534,966.3 536.2,966 538.3,965.7 C539,974 539,982.5 538.3,991.1 C531,990.5 524,989.7 517.1,988.9 C508,989.2 499,989.6 489.6,990 C475.5,991.5 461.5,993.5 447.3,995.3 C436,995 424.5,994.6 413.5,994.2 Z" fill="#f2cb98"/><path d="M413.5,956.2 C425,955 436,954.2 447.3,954 C462,954.5 476,958 489.6,962.5 C498,964.8 506.5,966.5 515,967.8 C520.5,967.5 526,967 531.9,966.7 C534,966.3 536.2,966 538.3,965.7 C539,974 539,982.5 538.3,991.1 C531,990.5 524,989.7 517.1,988.9 C508,989.2 499,989.6 489.6,990 C475.5,991.5 461.5,993.5 447.3,995.3 C436,995 424.5,994.6 413.5,994.2" fill="none" stroke="#2a1c14" stroke-width="1.6"/><path d="M413.5,1016.4 C425,1017 436,1018 447.3,1018.6 C461.5,1019.8 475.5,1021 489.6,1022.8 C500,1024 511,1025 521.4,1026 C527.5,1026 534,1025.5 540.4,1025 C542,1026.5 543.2,1028.5 543.5,1030.4 L540,1045 C537,1045.8 534.5,1046.5 531.9,1047.1 C518,1048 504,1049 489.6,1050.3 C475.5,1051 461.5,1051.8 447.3,1052.4 C436,1052.4 424.5,1052.4 413.5,1052.4 Z" fill="#f2cb98"/><path d="M413.5,1016.4 C425,1017 436,1018 447.3,1018.6 C461.5,1019.8 475.5,1021 489.6,1022.8 C500,1024 511,1025 521.4,1026 C527.5,1026 534,1025.5 540.4,1025 C542,1026.5 543.2,1028.5 543.5,1030.4 L540,1045 C537,1045.8 534.5,1046.5 531.9,1047.1 C518,1048 504,1049 489.6,1050.3 C475.5,1051 461.5,1051.8 447.3,1052.4 C436,1052.4 424.5,1052.4 413.5,1052.4" fill="none" stroke="#2a1c14" stroke-width="1.6"/><path d="M246,957 C244,964 245,971 247,977 M245,983 C247,980 251,981 250,984 C249,986 246,985 245,983 C250,987 255,989 259,992" fill="none" stroke="#2a1c14" stroke-width="0.7"/><path d="M426,957.5 C424,964 425,971 427,977 M425,982 C427,979 431,980 430,983 C429,985 426,984 425,982 C430,986 435,988 439,991" fill="none" stroke="#2a1c14" stroke-width="0.7"/><path d="M236,1032 L252,1026 C250,1034 250,1041 252,1046 M416,1031 L432,1025 C430,1033 430,1040 432,1045" fill="none" stroke="#2a1c14" stroke-width="0.7"/><path d="M368,969 C376,968 384,969 390,970 M368,975 C376,974 384,975 390,976 M368,1033 C376,1032 384,1033 392,1034 M368,1039 C376,1038 384,1039 392,1040" fill="none" stroke="#7a6a5a" stroke-width="0.6"/><line x1="268.3" y1="959.0" x2="278.4" y2="970.6" stroke="#1a1a1a" stroke-width="2.6"/><path d="M282.5,975.3 L273.0,971.6 L278.1,970.2 L280.2,965.4 Z" fill="#1a1a1a"/><line x1="270.5" y1="1041.8" x2="277.4" y2="1033.5" stroke="#1a1a1a" stroke-width="2.6"/><path d="M281.4,1028.7 L279.3,1038.7 L277.1,1033.9 L272.0,1032.6 Z" fill="#1a1a1a"/><line x1="445.2" y1="962.5" x2="453.8" y2="972.6" stroke="#6e5e50" stroke-width="2.6"/><path d="M457.9,977.3 L448.4,973.6 L453.5,972.2 L455.6,967.4 Z" fill="#6e5e50"/><line x1="446.3" y1="1038.7" x2="452.4" y2="1032.5" stroke="#6e5e50" stroke-width="2.6"/><path d="M456.8,1028.1 L453.8,1037.8 L452.0,1032.9 L447.1,1031.2 Z" fill="#6e5e50"/><line x1="291.2" y1="959.0" x2="301.3" y2="970.6" stroke="#1a1a1a" stroke-width="2.6"/><path d="M305.4,975.3 L295.9,971.6 L301.0,970.2 L303.1,965.4 Z" fill="#1a1a1a"/><line x1="293.5" y1="1041.8" x2="300.4" y2="1033.5" stroke="#1a1a1a" stroke-width="2.6"/><path d="M304.4,1028.7 L302.3,1038.7 L300.1,1033.9 L295.0,1032.6 Z" fill="#1a1a1a"/><line x1="467.4" y1="962.5" x2="476.0" y2="972.6" stroke="#6e5e50" stroke-width="2.6"/><path d="M480.1,977.3 L470.6,973.6 L475.7,972.2 L477.8,967.4 Z" fill="#6e5e50"/><line x1="468.5" y1="1038.7" x2="474.6" y2="1032.5" stroke="#6e5e50" stroke-width="2.6"/><path d="M479.0,1028.1 L476.0,1037.8 L474.2,1032.9 L469.3,1031.2 Z" fill="#6e5e50"/><line x1="314.1" y1="959.0" x2="324.2" y2="970.6" stroke="#1a1a1a" stroke-width="2.6"/><path d="M328.3,975.3 L318.8,971.6 L323.9,970.2 L326.0,965.4 Z" fill="#1a1a1a"/><line x1="316.5" y1="1041.8" x2="323.4" y2="1033.5" stroke="#1a1a1a" stroke-width="2.6"/><path d="M327.4,1028.7 L325.3,1038.7 L323.1,1033.9 L318.0,1032.6 Z" fill="#1a1a1a"/><line x1="489.6" y1="962.5" x2="498.2" y2="972.6" stroke="#6e5e50" stroke-width="2.6"/><path d="M502.3,977.3 L492.8,973.6 L497.9,972.2 L500.0,967.4 Z" fill="#6e5e50"/><line x1="490.7" y1="1038.7" x2="496.8" y2="1032.5" stroke="#6e5e50" stroke-width="2.6"/><path d="M501.2,1028.1 L498.2,1037.8 L496.4,1032.9 L491.5,1031.2 Z" fill="#6e5e50"/><g transform="translate(343.5,971.5) rotate(-38)"><rect x="-8" y="-15" width="16" height="30" rx="4" fill="#ee8fc2" stroke="#4d1737" stroke-width="1.2"/><ellipse cx="0" cy="13" rx="9" ry="5" fill="#ee8fc2" stroke="#4d1737" stroke-width="1.2"/></g><line x1="339.2" y1="963.3" x2="345.7" y2="972.0" stroke="#1a1a1a" stroke-width="2.6"/><path d="M349.0,976.4 L340.8,972.5 L345.4,971.6 L347.6,967.4 Z" fill="#1a1a1a"/><line x1="343.5" y1="950.3" x2="364.5" y2="970.4" stroke="#c8102e" stroke-width="3.2"/><path d="M369.7,975.3 L360.1,972.3 L364.2,970.0 L366.3,965.8 Z" fill="#c8102e"/><g transform="translate(342,1038) rotate(38)"><rect x="-8" y="-15" width="16" height="30" rx="4" fill="#ee8fc2" stroke="#4d1737" stroke-width="1.2"/><ellipse cx="0" cy="-13" rx="9" ry="5" fill="#ee8fc2" stroke="#4d1737" stroke-width="1.2"/></g><line x1="332.6" y1="1049.4" x2="342.3" y2="1037.4" stroke="#1a1a1a" stroke-width="2.6"/><path d="M345.7,1033.1 L344.0,1042.0 L341.9,1037.8 L337.4,1036.7 Z" fill="#1a1a1a"/><line x1="315.2" y1="1046.2" x2="335.5" y2="1023.2" stroke="#c8102e" stroke-width="3.2"/><path d="M340.2,1017.8 L337.6,1027.5 L335.1,1023.5 L330.9,1021.6 Z" fill="#c8102e"/><g transform="translate(506.5,975.7) rotate(-38)"><rect x="-8" y="-15" width="16" height="30" rx="4" fill="#ee8fc2" stroke="#4d1737" stroke-width="1.2"/><ellipse cx="0" cy="13" rx="9" ry="5" fill="#ee8fc2" stroke="#4d1737" stroke-width="1.2"/></g><line x1="496.3" y1="957.3" x2="509.4" y2="980.4" stroke="#3a8a3c" stroke-width="2.2"/><path d="M511.8,984.7 L505.3,980.3 L511.4,976.9 Z" fill="#3a8a3c"/><path d="M493.9,953.0 L494.3,960.8 L500.4,957.4 Z" fill="#3a8a3c"/><g transform="translate(505.5,1035.5) rotate(38)"><rect x="-8" y="-15" width="16" height="30" rx="4" fill="#ee8fc2" stroke="#4d1737" stroke-width="1.2"/><ellipse cx="0" cy="-13" rx="9" ry="5" fill="#ee8fc2" stroke="#4d1737" stroke-width="1.2"/></g><line x1="491.7" y1="1051.8" x2="507.7" y2="1031.9" stroke="#3a8a3c" stroke-width="2.2"/><path d="M510.8,1028.1 L509.1,1035.7 L503.7,1031.3 Z" fill="#3a8a3c"/><path d="M488.6,1055.6 L495.7,1052.4 L490.3,1048.0 Z" fill="#3a8a3c"/><path d="M534.2,1046.6 C536,1043 538,1039.5 539.6,1036.6 C540.3,1036.4 540.8,1036.8 541.2,1037.4 C542.5,1036 543.5,1035 544.3,1034.3 C545.8,1029.5 547.3,1024.5 548.9,1020.4 C549.5,1019.6 550,1019.5 550.4,1019.6 C551.5,1017.5 553,1015.5 555,1014.6 C556.5,1015 557.5,1017 558.1,1019.3 C559.5,1022 560.2,1025 560.4,1027.7 C560.8,1030.5 560.9,1033 560.8,1035.8 C560.8,1041 560.7,1046 560.4,1051.2 C559.5,1054.5 558.5,1057.5 557.4,1060.5 C556.8,1062.5 556.2,1064 555.8,1065.9 C556.8,1068.5 557.8,1071 558.9,1073.6 L545.4,1080.5 C544.8,1077 544.2,1073.5 543.5,1070.5 C542,1067.5 540.8,1065 539.6,1062.8 C537.8,1060 536.2,1057.5 535,1055.1 C534.5,1052 534.2,1049.5 534.2,1046.6 Z" fill="#f5c58c"/><path d="M545.4,1080.5 C544.8,1077 544.2,1073.5 543.5,1070.5 C542,1067.5 540.8,1065 539.6,1062.8 C537.8,1060 536.2,1057.5 535,1055.1 C534.5,1052 534.2,1049.5 534.2,1046.6 C536,1043 538,1039.5 539.6,1036.6 C540.3,1036.4 540.8,1036.8 541.2,1037.4 C542.5,1036 543.5,1035 544.3,1034.3 C545.8,1029.5 547.3,1024.5 548.9,1020.4 C549.5,1019.6 550,1019.5 550.4,1019.6 C551.5,1017.5 553,1015.5 555,1014.6 C556.5,1015 557.5,1017 558.1,1019.3 C559.5,1022 560.2,1025 560.4,1027.7 C560.8,1030.5 560.9,1033 560.8,1035.8 C560.8,1041 560.7,1046 560.4,1051.2 C559.5,1054.5 558.5,1057.5 557.4,1060.5 C556.8,1062.5 556.2,1064 555.8,1065.9 C556.8,1068.5 557.8,1071 558.9,1073.6" fill="none" stroke="#2a1c14" stroke-width="1.1"/><path d="M550.4,1019.6 C549.5,1026 548.5,1033 548,1040 M555,1014.6 C554,1022 553.5,1030 553,1040 M558.1,1019.3 C557.5,1026 557,1033 556.5,1041 M538.5,1047.4 C539.5,1044 540.5,1040.5 541.2,1037.4" fill="none" stroke="#2a1c14" stroke-width="0.9"/><line x1="534.2" y1="1049.5" x2="549.1" y2="1049.5" stroke="#111" stroke-width="2.4"/><path d="M556.6,1049.5 L546.6,1054.5 L548.6,1049.5 L546.6,1044.5 Z" fill="#111"/><ellipse cx="304.2" cy="1079.7" rx="34.2" ry="11.3" fill="#f1b6c5" stroke="#a88090" stroke-width="0.6"/><ellipse cx="470.8" cy="1079.7" rx="34.2" ry="11.3" fill="#f1b6c5" stroke="#a88090" stroke-width="0.6"/><defs><linearGradient id="gold" x1="0" y1="0" x2="1" y2="0.6"><stop offset="0" stop-color="#6e5612"/><stop offset="0.12" stop-color="#b8952e"/><stop offset="0.25" stop-color="#8a6e1c"/><stop offset="0.4" stop-color="#d8bb50"/><stop offset="0.55" stop-color="#b09028"/><stop offset="0.7" stop-color="#e2c865"/><stop offset="0.85" stop-color="#cdb04a"/><stop offset="1" stop-color="#ece0a8"/></linearGradient><radialGradient id="iris" cx="0.5" cy="0.55" r="0.5"><stop offset="0" stop-color="#9a8a50"/><stop offset="0.55" stop-color="#a0502a"/><stop offset="0.85" stop-color="#7a2a18"/><stop offset="1" stop-color="#2a1510"/></radialGradient><clipPath id="eyeclip"><path d="M60,1046 C80,1040 110,1038 135,1042 C150,1047 158,1056 165,1064.2 C150,1067 130,1071 106.7,1071.7 C92,1071 82,1066 74,1058 C68,1053 64,1049 60,1046 Z"/></clipPath></defs><path d="M32.7,999.8 C45,1008 60,1011.5 75,1013.5 C95,1015.5 112,1016.5 125,1021.9 C137,1027 145,1036 150,1046 L120,1050 L95,1072 L82.7,1075.6 C70,1072 58,1060 48,1046 C40,1034 35,1020 33.5,1010 C33,1006 32.8,1003 32.7,999.8 Z" fill="url(#gold)"/><defs><clipPath id="goldclip"><path d="M32.7,999.8 C45,1008 60,1011.5 75,1013.5 C95,1015.5 112,1016.5 125,1021.9 C137,1027 145,1036 150,1046 L120,1050 L95,1072 L82.7,1075.6 C70,1072 58,1060 48,1046 C40,1034 35,1020 33.5,1010 C33,1006 32.8,1003 32.7,999.8 Z"/></clipPath></defs><g clip-path="url(#goldclip)"><line x1="84.3" y1="1042.6" x2="110.1" y2="1054.3" stroke="#fff2b0" stroke-width="2.2" opacity="0.6"/><line x1="52.8" y1="1063.3" x2="69.3" y2="1071.6" stroke="#e8cf60" stroke-width="1.0" opacity="0.6"/><line x1="66.4" y1="1002.7" x2="89.3" y2="1014.7" stroke="#f3e08a" stroke-width="1.8" opacity="0.6"/><line x1="77.5" y1="1033.5" x2="99.1" y2="1044.6" stroke="#fff2b0" stroke-width="0.8" opacity="0.6"/><line x1="93.4" y1="1000.1" x2="104.8" y2="1004.5" stroke="#f3e08a" stroke-width="2.0" opacity="0.6"/><line x1="69.2" y1="1045.2" x2="80.6" y2="1049.7" stroke="#6a5212" stroke-width="1.6" opacity="0.6"/><line x1="109.5" y1="1033.9" x2="121.5" y2="1041.3" stroke="#f3e08a" stroke-width="1.9" opacity="0.6"/><line x1="67.8" y1="1014.5" x2="81.4" y2="1019.2" stroke="#f3e08a" stroke-width="1.4" opacity="0.6"/><line x1="131.6" y1="1027.9" x2="156.8" y2="1042.3" stroke="#f3e08a" stroke-width="1.1" opacity="0.6"/><line x1="141.2" y1="999.4" x2="155.6" y2="1007.1" stroke="#8a6c1a" stroke-width="0.9" opacity="0.6"/><line x1="105.5" y1="1061.2" x2="118.7" y2="1065.8" stroke="#6a5212" stroke-width="0.8" opacity="0.6"/><line x1="79.2" y1="1073.4" x2="88.9" y2="1078.6" stroke="#f3e08a" stroke-width="0.9" opacity="0.6"/><line x1="125.6" y1="1010.1" x2="144.2" y2="1018.4" stroke="#e8cf60" stroke-width="2.4" opacity="0.6"/><line x1="122.3" y1="1030.6" x2="137.4" y2="1037.2" stroke="#e8cf60" stroke-width="0.8" opacity="0.6"/><line x1="133.7" y1="1077.9" x2="151.6" y2="1089.0" stroke="#f3e08a" stroke-width="1.1" opacity="0.6"/><line x1="77.3" y1="1067.6" x2="98.2" y2="1075.0" stroke="#e8cf60" stroke-width="1.1" opacity="0.6"/><line x1="61.0" y1="1060.7" x2="75.1" y2="1066.4" stroke="#f3e08a" stroke-width="0.9" opacity="0.6"/><line x1="55.0" y1="1049.1" x2="62.7" y2="1052.4" stroke="#fff2b0" stroke-width="1.5" opacity="0.6"/><line x1="145.1" y1="1036.1" x2="162.9" y2="1046.5" stroke="#e8cf60" stroke-width="1.8" opacity="0.6"/><line x1="67.3" y1="1014.4" x2="86.2" y2="1024.5" stroke="#e8cf60" stroke-width="2.0" opacity="0.6"/><line x1="142.8" y1="1011.7" x2="167.8" y2="1026.3" stroke="#fff2b0" stroke-width="0.9" opacity="0.6"/><line x1="35.7" y1="1004.3" x2="53.6" y2="1011.4" stroke="#b89530" stroke-width="1.9" opacity="0.6"/><line x1="60.8" y1="1065.0" x2="80.4" y2="1073.0" stroke="#e8cf60" stroke-width="2.3" opacity="0.6"/><line x1="147.3" y1="1005.7" x2="163.8" y2="1014.2" stroke="#fff2b0" stroke-width="1.8" opacity="0.6"/><line x1="63.6" y1="1073.0" x2="75.5" y2="1076.9" stroke="#6a5212" stroke-width="1.5" opacity="0.6"/><line x1="59.9" y1="999.0" x2="72.7" y2="1005.1" stroke="#e8cf60" stroke-width="0.9" opacity="0.6"/><line x1="46.6" y1="1033.3" x2="60.1" y2="1040.5" stroke="#fff2b0" stroke-width="1.7" opacity="0.6"/><line x1="46.8" y1="998.0" x2="54.1" y2="1002.3" stroke="#b89530" stroke-width="1.3" opacity="0.6"/><line x1="34.0" y1="1045.9" x2="43.1" y2="1049.0" stroke="#6a5212" stroke-width="1.3" opacity="0.6"/><line x1="149.9" y1="1001.4" x2="167.5" y2="1010.9" stroke="#b89530" stroke-width="2.0" opacity="0.6"/><line x1="45.5" y1="1076.9" x2="60.2" y2="1082.0" stroke="#8a6c1a" stroke-width="2.2" opacity="0.6"/><line x1="134.5" y1="1030.5" x2="156.5" y2="1043.2" stroke="#fff2b0" stroke-width="0.8" opacity="0.6"/><line x1="109.5" y1="1027.2" x2="117.3" y2="1029.9" stroke="#f3e08a" stroke-width="1.8" opacity="0.6"/><line x1="149.2" y1="1069.8" x2="171.2" y2="1079.3" stroke="#b89530" stroke-width="1.9" opacity="0.6"/><line x1="84.9" y1="1034.3" x2="102.9" y2="1042.8" stroke="#fff2b0" stroke-width="0.8" opacity="0.6"/><line x1="102.2" y1="1035.9" x2="113.7" y2="1042.0" stroke="#8a6c1a" stroke-width="2.0" opacity="0.6"/><line x1="109.2" y1="1036.3" x2="134.7" y2="1047.2" stroke="#e8cf60" stroke-width="1.9" opacity="0.6"/><line x1="54.3" y1="1009.4" x2="79.1" y2="1022.2" stroke="#8a6c1a" stroke-width="1.6" opacity="0.6"/><line x1="59.0" y1="1029.4" x2="71.0" y2="1035.5" stroke="#e8cf60" stroke-width="2.2" opacity="0.6"/><line x1="76.1" y1="1044.6" x2="90.2" y2="1049.7" stroke="#8a6c1a" stroke-width="1.4" opacity="0.6"/><line x1="137.5" y1="998.4" x2="145.5" y2="1003.4" stroke="#e8cf60" stroke-width="1.0" opacity="0.6"/><line x1="86.6" y1="1073.7" x2="110.7" y2="1084.1" stroke="#fff2b0" stroke-width="1.6" opacity="0.6"/><line x1="67.8" y1="1066.3" x2="94.8" y2="1078.5" stroke="#f3e08a" stroke-width="2.1" opacity="0.6"/><line x1="63.4" y1="1046.6" x2="84.6" y2="1055.2" stroke="#6a5212" stroke-width="1.3" opacity="0.6"/><line x1="125.0" y1="996.6" x2="135.0" y2="1001.2" stroke="#f3e08a" stroke-width="2.0" opacity="0.6"/><line x1="62.0" y1="1061.2" x2="83.7" y2="1074.7" stroke="#f3e08a" stroke-width="1.5" opacity="0.6"/><line x1="105.6" y1="1050.7" x2="127.6" y2="1064.1" stroke="#b89530" stroke-width="1.1" opacity="0.6"/><line x1="128.9" y1="1016.8" x2="149.7" y2="1028.1" stroke="#fff2b0" stroke-width="1.9" opacity="0.6"/><line x1="51.5" y1="1018.2" x2="65.3" y2="1025.4" stroke="#fff2b0" stroke-width="1.6" opacity="0.6"/><line x1="149.6" y1="1008.5" x2="173.2" y2="1021.0" stroke="#e8cf60" stroke-width="0.9" opacity="0.6"/><line x1="141.9" y1="1056.4" x2="151.8" y2="1060.9" stroke="#b89530" stroke-width="2.2" opacity="0.6"/><line x1="30.8" y1="1041.8" x2="51.1" y2="1051.2" stroke="#6a5212" stroke-width="1.5" opacity="0.6"/><line x1="108.2" y1="1012.4" x2="129.0" y2="1024.2" stroke="#b89530" stroke-width="2.3" opacity="0.6"/><line x1="44.8" y1="1015.6" x2="60.5" y2="1021.1" stroke="#6a5212" stroke-width="1.7" opacity="0.6"/><line x1="124.9" y1="1022.2" x2="149.2" y2="1036.2" stroke="#6a5212" stroke-width="1.6" opacity="0.6"/><line x1="34.5" y1="1024.1" x2="50.5" y2="1030.5" stroke="#f3e08a" stroke-width="1.1" opacity="0.6"/><line x1="134.1" y1="1031.5" x2="142.0" y2="1035.2" stroke="#b89530" stroke-width="2.1" opacity="0.6"/><line x1="46.9" y1="1007.6" x2="63.9" y2="1016.8" stroke="#b89530" stroke-width="1.9" opacity="0.6"/><line x1="143.5" y1="1036.9" x2="170.8" y2="1046.4" stroke="#e8cf60" stroke-width="1.5" opacity="0.6"/><line x1="97.1" y1="1065.6" x2="116.1" y2="1072.7" stroke="#fff2b0" stroke-width="2.1" opacity="0.6"/></g><path d="M35,1012 C55,1020 75,1022 95,1024 M40,1028 C52,1034 60,1040 66,1048 M46,1042 C56,1052 66,1062 78,1070" fill="none" stroke="#5e4a10" stroke-width="1" opacity="0.5"/><defs><clipPath id="eyeclip2"><path d="M46.7,1040.8 C52,1040.5 58,1040.4 65,1040 C73,1038 82,1035.5 90,1034.2 C97,1033.4 104,1033.2 110,1033.3 C118,1033.8 125,1035 131.7,1036.7 C138,1039 143.5,1041.8 148.3,1045 C154,1050.5 160,1057 165,1064.2 C157,1064.8 148,1065.2 140,1065.8 C134,1067 129,1068.2 123.3,1069.2 C117.5,1070.5 112,1071.5 106.7,1071.7 C101,1071.7 95.5,1071 90,1070 C85.5,1068.2 81.5,1066 78.3,1063.3 C75.5,1060.5 72.7,1057.7 70,1055 C66.7,1052.6 63.3,1050.5 60,1048.3 C55.5,1045.8 51,1043.3 46.7,1040.8 Z"/></clipPath></defs><path d="M46.7,1040.8 C52,1040.5 58,1040.4 65,1040 C73,1038 82,1035.5 90,1034.2 C97,1033.4 104,1033.2 110,1033.3 C118,1033.8 125,1035 131.7,1036.7 C138,1039 143.5,1041.8 148.3,1045 C154,1050.5 160,1057 165,1064.2 C157,1064.8 148,1065.2 140,1065.8 C134,1067 129,1068.2 123.3,1069.2 C117.5,1070.5 112,1071.5 106.7,1071.7 C101,1071.7 95.5,1071 90,1070 C85.5,1068.2 81.5,1066 78.3,1063.3 C75.5,1060.5 72.7,1057.7 70,1055 C66.7,1052.6 63.3,1050.5 60,1048.3 C55.5,1045.8 51,1043.3 46.7,1040.8 Z" fill="#121212"/><path d="M79,1053 C84,1049 89,1047 95,1045.5 C102,1044 108,1043.4 115,1043.3 C123,1043.5 130,1044.5 137,1046.5 C144,1049.5 150,1052.5 155,1056 C157,1058.5 158.5,1060.8 160,1063 C153,1063.5 147,1063.8 140,1064.3 C133,1065.5 126.5,1066.8 120,1067.5 C113,1068.2 106,1068.3 100,1068 C95.5,1067.2 91.5,1065.8 88,1064 C84.5,1060.5 81.5,1056.8 79,1053 Z" fill="#dedede"/><g clip-path="url(#eyeclip2)"><circle cx="115.8" cy="1052.5" r="21.3" fill="#3a1a10"/><circle cx="115.8" cy="1052.5" r="19" fill="#8a3a22"/><circle cx="112.6" cy="1058.9" r="1.7" fill="#8e2a1a"/><circle cx="128.0" cy="1058.5" r="1.7" fill="#b5651d"/><circle cx="100.5" cy="1043.7" r="1.7" fill="#7a8a30"/><circle cx="127.6" cy="1055.3" r="1.7" fill="#a93226"/><circle cx="116.6" cy="1066.2" r="1.7" fill="#8e2a1a"/><circle cx="118.8" cy="1046.7" r="1.7" fill="#7a8a30"/><circle cx="106.2" cy="1042.2" r="1.7" fill="#8e2a1a"/><circle cx="105.5" cy="1047.1" r="1.7" fill="#7a8a30"/><circle cx="132.2" cy="1057.4" r="1.7" fill="#5a6a28"/><circle cx="103.9" cy="1059.1" r="1.7" fill="#d0702a"/><circle cx="109.8" cy="1068.1" r="1.7" fill="#6a2a18"/><circle cx="127.0" cy="1060.9" r="1.7" fill="#7a8a30"/><circle cx="106.3" cy="1062.3" r="1.7" fill="#a93226"/><circle cx="102.4" cy="1046.8" r="1.7" fill="#4a2a18"/><circle cx="110.7" cy="1041.5" r="1.7" fill="#b5651d"/><circle cx="98.4" cy="1056.3" r="1.7" fill="#b5651d"/><circle cx="110.7" cy="1068.2" r="1.7" fill="#7a8a30"/><circle cx="124.6" cy="1057.5" r="1.7" fill="#4a2a18"/><circle cx="127.0" cy="1041.3" r="1.7" fill="#5a6a28"/><circle cx="111.9" cy="1049.3" r="1.7" fill="#c0392b"/><circle cx="101.8" cy="1060.4" r="1.7" fill="#6a2a18"/><circle cx="126.8" cy="1047.6" r="1.7" fill="#a93226"/><circle cx="117.1" cy="1038.6" r="1.7" fill="#b5651d"/><circle cx="109.9" cy="1061.7" r="1.7" fill="#4a2a18"/><circle cx="104.8" cy="1046.5" r="1.7" fill="#a93226"/><circle cx="127.8" cy="1048.2" r="1.7" fill="#a93226"/><circle cx="130.2" cy="1058.3" r="1.7" fill="#d0702a"/><circle cx="132.6" cy="1051.8" r="1.7" fill="#5a6a28"/><circle cx="112.2" cy="1035.5" r="1.7" fill="#b5651d"/><circle cx="128.2" cy="1054.3" r="1.7" fill="#6a2a18"/><circle cx="105.8" cy="1044.2" r="1.7" fill="#7a8a30"/><circle cx="116.6" cy="1045.9" r="1.7" fill="#7a8a30"/><circle cx="101.6" cy="1063.1" r="1.7" fill="#4a2a18"/><circle cx="126.6" cy="1058.5" r="1.7" fill="#c0392b"/><circle cx="114.6" cy="1059.2" r="1.7" fill="#9b3a1a"/><circle cx="122.2" cy="1045.1" r="1.7" fill="#9b3a1a"/><circle cx="131.0" cy="1051.2" r="1.7" fill="#9b3a1a"/><circle cx="122.7" cy="1050.6" r="1.7" fill="#6a2a18"/><circle cx="124.5" cy="1064.7" r="1.7" fill="#8e2a1a"/><circle cx="101.7" cy="1053.8" r="1.7" fill="#5a6a28"/><circle cx="114.4" cy="1059.4" r="1.7" fill="#c0392b"/><circle cx="106.3" cy="1062.7" r="1.7" fill="#6a2a18"/><circle cx="110.9" cy="1040.1" r="1.7" fill="#d0702a"/><circle cx="106.9" cy="1039.3" r="1.7" fill="#4a2a18"/><circle cx="129.0" cy="1042.9" r="1.7" fill="#c0392b"/><circle cx="106.7" cy="1059.8" r="1.7" fill="#a93226"/><circle cx="104.2" cy="1053.9" r="1.7" fill="#7a8a30"/><circle cx="123.5" cy="1056.0" r="1.7" fill="#6a2a18"/><circle cx="126.9" cy="1061.6" r="1.7" fill="#a93226"/><circle cx="123.0" cy="1052.5" r="1.7" fill="#a93226"/><circle cx="129.6" cy="1047.9" r="1.7" fill="#a93226"/><circle cx="126.0" cy="1042.2" r="1.7" fill="#6a2a18"/><circle cx="103.8" cy="1039.0" r="1.7" fill="#d0702a"/><circle cx="111.5" cy="1057.4" r="1.7" fill="#4a2a18"/><circle cx="128.4" cy="1052.0" r="1.7" fill="#4a2a18"/><circle cx="113.1" cy="1059.0" r="1.7" fill="#b5651d"/><circle cx="115.0" cy="1039.7" r="1.7" fill="#6a2a18"/><circle cx="107.5" cy="1051.6" r="1.7" fill="#c0392b"/><circle cx="105.9" cy="1064.2" r="1.7" fill="#8e2a1a"/><circle cx="116.3" cy="1042.4" r="1.7" fill="#a93226"/><circle cx="112.7" cy="1043.6" r="1.7" fill="#b5651d"/><circle cx="125.1" cy="1046.5" r="1.7" fill="#7a8a30"/><circle cx="99.8" cy="1049.2" r="1.7" fill="#b5651d"/><circle cx="106.3" cy="1041.5" r="1.7" fill="#7a8a30"/><circle cx="121.6" cy="1036.8" r="1.7" fill="#7a8a30"/><circle cx="119.8" cy="1064.8" r="1.7" fill="#8e2a1a"/><circle cx="132.2" cy="1051.4" r="1.7" fill="#4a2a18"/><circle cx="114.9" cy="1067.9" r="1.7" fill="#b5651d"/><circle cx="98.9" cy="1058.3" r="1.7" fill="#b5651d"/><circle cx="126.5" cy="1049.4" r="1.7" fill="#7a8a30"/><circle cx="126.0" cy="1060.1" r="1.7" fill="#b5651d"/><circle cx="119.9" cy="1066.5" r="1.7" fill="#d0702a"/><circle cx="122.7" cy="1041.7" r="1.7" fill="#b5651d"/><circle cx="117.5" cy="1047.4" r="1.7" fill="#a93226"/><circle cx="129.6" cy="1043.7" r="1.7" fill="#7a8a30"/><circle cx="108.1" cy="1053.6" r="1.7" fill="#b5651d"/><circle cx="131.2" cy="1061.8" r="1.7" fill="#9b3a1a"/><circle cx="100.3" cy="1056.2" r="1.7" fill="#a93226"/><circle cx="114.6" cy="1045.0" r="1.7" fill="#6a2a18"/><circle cx="129.8" cy="1054.9" r="1.7" fill="#4a2a18"/><circle cx="118.3" cy="1045.9" r="1.7" fill="#d0702a"/><circle cx="130.7" cy="1050.6" r="1.7" fill="#b5651d"/><circle cx="123.4" cy="1063.9" r="1.7" fill="#8e2a1a"/><circle cx="134.0" cy="1054.1" r="1.7" fill="#a93226"/><circle cx="98.2" cy="1049.5" r="1.7" fill="#9b3a1a"/><circle cx="123.9" cy="1051.8" r="1.7" fill="#7a8a30"/><circle cx="124.2" cy="1054.0" r="1.7" fill="#c0392b"/><circle cx="116.6" cy="1066.6" r="1.7" fill="#5a6a28"/><circle cx="99.6" cy="1047.9" r="1.7" fill="#8e2a1a"/><circle cx="125.1" cy="1046.6" r="1.7" fill="#4a2a18"/><circle cx="107.1" cy="1038.3" r="1.7" fill="#c0392b"/><circle cx="100.2" cy="1061.0" r="1.7" fill="#c0392b"/><circle cx="120.7" cy="1057.8" r="1.7" fill="#c0392b"/><circle cx="128.0" cy="1053.9" r="1.7" fill="#6a2a18"/><circle cx="103.1" cy="1042.2" r="1.7" fill="#6a2a18"/><circle cx="121.8" cy="1063.7" r="1.7" fill="#a93226"/><circle cx="105.9" cy="1048.8" r="1.7" fill="#c0392b"/><circle cx="103.2" cy="1050.0" r="1.7" fill="#a93226"/><circle cx="119.1" cy="1049.5" r="1.7" fill="#7a8a30"/><circle cx="113.1" cy="1068.5" r="1.7" fill="#c0392b"/><circle cx="112.9" cy="1053.4" r="1.7" fill="#a93226"/><circle cx="102.2" cy="1057.6" r="1.7" fill="#c0392b"/><circle cx="109.3" cy="1047.4" r="1.7" fill="#5a6a28"/><circle cx="102.9" cy="1056.5" r="1.7" fill="#4a2a18"/><circle cx="106.6" cy="1052.1" r="1.7" fill="#c0392b"/><circle cx="128.6" cy="1039.9" r="1.7" fill="#5a6a28"/><circle cx="131.3" cy="1044.3" r="1.7" fill="#7a8a30"/><circle cx="119.5" cy="1046.7" r="1.7" fill="#a93226"/><circle cx="107.7" cy="1059.0" r="1.7" fill="#7a8a30"/><circle cx="108.1" cy="1056.2" r="1.7" fill="#5a6a28"/><circle cx="119.5" cy="1035.4" r="1.7" fill="#6a2a18"/><circle cx="129.6" cy="1047.0" r="1.7" fill="#b5651d"/><circle cx="126.6" cy="1066.1" r="1.7" fill="#4a2a18"/><circle cx="119.2" cy="1070.2" r="1.7" fill="#9b3a1a"/><circle cx="121.4" cy="1047.6" r="1.7" fill="#7a8a30"/><circle cx="122.2" cy="1062.8" r="1.7" fill="#c0392b"/><circle cx="105.9" cy="1059.3" r="1.7" fill="#b5651d"/><circle cx="109.2" cy="1066.8" r="1.7" fill="#8e2a1a"/><circle cx="109.2" cy="1063.2" r="1.7" fill="#8e2a1a"/><circle cx="105.9" cy="1061.3" r="1.7" fill="#5a6a28"/><circle cx="111.1" cy="1052.1" r="1.7" fill="#7a8a30"/><circle cx="121.7" cy="1051.4" r="1.7" fill="#5a6a28"/><circle cx="113.4" cy="1069.9" r="1.7" fill="#6a2a18"/><circle cx="114.9" cy="1059.1" r="1.7" fill="#9b3a1a"/><circle cx="124.7" cy="1040.2" r="1.7" fill="#5a6a28"/><circle cx="104.5" cy="1060.1" r="1.7" fill="#c0392b"/><circle cx="101.8" cy="1045.9" r="1.7" fill="#a93226"/><circle cx="112.8" cy="1068.8" r="1.7" fill="#6a2a18"/><circle cx="111.4" cy="1054.8" r="1.7" fill="#8e2a1a"/><circle cx="104.8" cy="1040.1" r="1.7" fill="#a93226"/><circle cx="109.0" cy="1047.0" r="1.7" fill="#5a6a28"/><circle cx="123.9" cy="1043.0" r="1.7" fill="#b5651d"/><circle cx="127.7" cy="1052.1" r="1.7" fill="#5a6a28"/><circle cx="113.0" cy="1049.8" r="1.7" fill="#7a8a30"/><circle cx="132.7" cy="1045.6" r="1.7" fill="#5a6a28"/><circle cx="123.7" cy="1055.1" r="1.7" fill="#5a6a28"/><circle cx="106.5" cy="1042.7" r="1.7" fill="#7a8a30"/><circle cx="112.5" cy="1065.2" r="1.7" fill="#6a2a18"/><circle cx="113.7" cy="1068.9" r="1.7" fill="#5a6a28"/><circle cx="118.2" cy="1053.1" r="1.7" fill="#c0392b"/><circle cx="108.2" cy="1050.0" r="1.7" fill="#4a2a18"/><circle cx="116.1" cy="1064.9" r="1.7" fill="#9b3a1a"/><circle cx="108.2" cy="1041.1" r="1.7" fill="#9b3a1a"/><circle cx="125.9" cy="1050.6" r="1.7" fill="#7a8a30"/><circle cx="126.6" cy="1051.3" r="1.7" fill="#6a2a18"/><circle cx="106.8" cy="1058.6" r="1.7" fill="#8e2a1a"/><circle cx="116.9" cy="1050.6" r="1.7" fill="#5a6a28"/><circle cx="111.9" cy="1054.3" r="1.7" fill="#9b3a1a"/><circle cx="126.2" cy="1041.5" r="1.7" fill="#5a6a28"/><circle cx="103.3" cy="1043.5" r="1.7" fill="#8e2a1a"/><circle cx="108.7" cy="1054.4" r="1.7" fill="#4a2a18"/><circle cx="127.0" cy="1052.8" r="1.7" fill="#b5651d"/><circle cx="129.3" cy="1050.2" r="1.7" fill="#7a8a30"/><circle cx="132.8" cy="1056.2" r="1.7" fill="#7a8a30"/><circle cx="115.4" cy="1053.0" r="1.7" fill="#9b3a1a"/><circle cx="124.2" cy="1057.4" r="1.7" fill="#7a8a30"/><circle cx="116.0" cy="1068.8" r="1.7" fill="#a93226"/><circle cx="115.3" cy="1058.0" r="1.7" fill="#9b3a1a"/><circle cx="105.9" cy="1046.5" r="1.7" fill="#5a6a28"/><circle cx="112.8" cy="1060.9" r="1.7" fill="#d0702a"/><circle cx="132.3" cy="1048.0" r="1.7" fill="#6a2a18"/><circle cx="107.2" cy="1039.4" r="1.7" fill="#d0702a"/><circle cx="107.7" cy="1059.3" r="1.7" fill="#4a2a18"/><circle cx="125.1" cy="1065.2" r="1.7" fill="#6a2a18"/><circle cx="132.1" cy="1057.1" r="1.7" fill="#c0392b"/><circle cx="104.8" cy="1041.1" r="1.7" fill="#c0392b"/><circle cx="124.4" cy="1062.8" r="1.7" fill="#c0392b"/><circle cx="100.6" cy="1045.5" r="1.7" fill="#8e2a1a"/><circle cx="122.3" cy="1040.0" r="1.7" fill="#7a8a30"/><circle cx="119.1" cy="1054.4" r="1.7" fill="#b5651d"/><path d="M101,1071 C103,1064 105,1061 104,1057 C108,1060 112,1062 114.5,1058 C117,1062 121,1061 126,1057 C125,1062 126,1066 130,1071 Z" fill="#a9b56e"/><path d="M113.3,1071 L114.2,1056 L117.2,1056 L118.3,1071 Z" fill="#5a3520"/></g><path d="M46.7,1040.8 C58,1040.4 75,1037 90,1034.2 C100,1033.2 110,1033.2 131.7,1036.7 C140,1039 148,1045 165,1064.2 C158,1058 150,1052 142,1047.5 C132,1043.5 122,1041.8 112,1041.5 C100,1041.5 88,1043 78,1046 C70,1045 60,1043 46.7,1040.8 Z" fill="#121212"/><path d="M71.7,1026.7 L68.0,1040.4 L64.0,1038.6 Z" fill="#111"/><path d="M90,1023.3 L86.0,1037.4 L82.0,1035.6 Z" fill="#111"/><path d="M106.7,1023.3 L101.9,1035.2 L98.1,1032.8 Z" fill="#111"/><path d="M121.7,1025.8 L116.7,1035.4 L113.3,1032.6 Z" fill="#111"/><path d="M135,1030.8 L129.3,1037.8 L126.7,1034.2 Z" fill="#111"/><path d="M146.7,1038.3 L140.7,1042.6 L139.3,1038.4 Z" fill="#111"/><path d="M155,1045 L148.2,1047.7 L147.8,1043.3 Z" fill="#111"/><path d="M46,1031 L57.6,1039.4 L54.4,1042.6 Z" fill="#111"/><text x="0" y="0" transform="translate(59.6,1087) rotate(-3)" font-family="Liberation Serif" font-style="italic" font-weight="700" font-size="14.2" fill="#2a2a2a" textLength="93.5" lengthAdjust="spacingAndGlyphs">Esthétique Libre</text><path d="M418.66,388.30 L421.90,388.30 L421.90,401.30 L418.93,401.30 L418.93,392.20 L416.82,393.89 L416.50,390.90 Z" fill="#c8102e"/><text transform="translate(427.27,503.80) scale(0.925,1)" font-family="Liberation Sans" font-weight="700" font-size="19.76" fill="#c8102e" stroke="#c8102e" stroke-width="0.5">2</text><text transform="translate(697.92,408.80) scale(1.041,1)" font-family="Liberation Sans" font-weight="700" font-size="18.76" fill="#3a8a3c" stroke="#3a8a3c" stroke-width="0.5">2</text><path d="M758.70,513.60 L762.90,513.60 L762.90,526.30 L759.05,526.30 L759.05,517.41 L756.32,519.06 L755.90,516.14 Z" fill="#3a8a3c"/><path d="M194.74,835.80 L198.40,835.80 L198.40,848.50 L195.05,848.50 L195.05,839.61 L192.67,841.26 L192.30,838.34 Z" fill="#c8102e"/><path d="M160.96,880.20 L164.80,880.20 L164.80,893.40 L161.28,893.40 L161.28,884.16 L158.78,885.88 L158.40,882.84 Z" fill="#3a8a3c"/><text transform="translate(131.77,904.10) scale(0.967,1)" font-family="Liberation Sans" font-weight="700" font-size="18.90" fill="#3a8a3c" stroke="#3a8a3c" stroke-width="0.5">2</text><text transform="translate(91.25,881.70) scale(0.960,1)" font-family="Liberation Sans" font-weight="700" font-size="19.48" fill="#c8102e" stroke="#c8102e" stroke-width="0.5">2</text><text transform="translate(274.76,748.50) scale(1.058,1)" font-family="Liberation Sans" font-weight="700" font-size="17.47" fill="#c8102e" stroke="#c8102e" stroke-width="0.5">2</text><path d="M283.00,754.20 L286.30,754.20 L286.30,767.30 L283.28,767.30 L283.28,758.13 L281.13,759.83 L280.80,756.82 Z" fill="#3a8a3c"/><path d="M325.30,745.00 L328.30,745.00 L328.30,757.50 L325.55,757.50 L325.55,748.75 L323.60,750.38 L323.30,747.50 Z" fill="#c8102e"/><text transform="translate(311.47,773.70) scale(0.978,1)" font-family="Liberation Sans" font-weight="700" font-size="18.47" fill="#3a8a3c" stroke="#3a8a3c" stroke-width="0.5">2</text><path d="M371.12,989.00 L374.60,989.00 L374.60,1002.20 L371.41,1002.20 L371.41,992.96 L369.15,994.68 L368.80,991.64 Z" fill="#c8102e"/><text transform="translate(365.14,1066.30) scale(0.981,1)" font-family="Liberation Sans" font-weight="700" font-size="19.48" fill="#c8102e" stroke="#c8102e" stroke-width="0.5">2</text><text transform="translate(517.01,1007.90) scale(1.039,1)" font-family="Liberation Sans" font-weight="700" font-size="19.19" fill="#3a8a3c" stroke="#3a8a3c" stroke-width="0.5">2</text><path d="M524.48,1058.50 L527.90,1058.50 L527.90,1071.90 L524.76,1071.90 L524.76,1062.52 L522.54,1064.26 L522.20,1061.18 Z" fill="#3a8a3c"/><!-- frame lines -->
<rect x="275.75" y="8.25" width="257" height="110" fill="none" stroke="#47479a" stroke-width="2.5"/>
<rect x="571.25" y="5.25" width="201.5" height="226" fill="none" stroke="#d0161f" stroke-width="2.5"/>
<g stroke="#000" stroke-width="2.6" fill="none">
<line x1="0" y1="235.6" x2="780" y2="235.6"/>
<line x1="221" y1="235.6" x2="221" y2="1104"/>
<line x1="0" y1="599.9" x2="780" y2="599.9"/>
<line x1="221" y1="858.7" x2="780" y2="858.7"/>
<line x1="571.6" y1="858.7" x2="571.6" y2="1104"/>
</g>
</svg>
<div class=t style='left:28.19px;top:5.13px;font-size:23px;color:#231f20;transform:scaleX(0.9557);'>Durée: 20 minutes</div><div class=t style='left:340.71px;top:17.12px;font-size:26.2px;color:#231f20;transform:scaleX(0.8954);'>EPILATION</div><div class=t style='left:318.04px;top:49.72px;font-size:26.2px;color:#231f20;transform:scaleX(0.9620);'>Cire recyclable</div><div class=t style='left:289.84px;top:83.42px;font-size:26.2px;color:#231f20;transform:scaleX(0.9565);'>- Les demi-jambes -</div><div class=t style='left:275.95px;top:128.16px;font-size:16.7px;color:#231f20;transform:scaleX(1.0548);'>Matériel:</div><div class=t style='left:36.20px;top:150.93px;font-size:14.5px;color:#231f20;transform:scaleX(0.9913);'>Appareil à cire</div><div class=t style='left:35.21px;top:170.13px;font-size:14.5px;color:#231f20;transform:scaleX(0.9877);'>Grosse spatule cuillère</div><div class=t style='left:35.18px;top:188.63px;font-size:14.5px;color:#231f20;transform:scaleX(1.0156);'>en bois</div><div class=t style='left:35.21px;top:207.63px;font-size:14.5px;color:#231f20;transform:scaleX(0.9867);'>Cotons</div><div class=t style='left:214.78px;top:150.73px;font-size:14.5px;color:#231f20;transform:scaleX(1.0205);'>Porte couteau (ou coupelle)</div><div class=t style='left:214.78px;top:169.83px;font-size:14.5px;color:#231f20;transform:scaleX(1.0179);'>Coupelle</div><div class=t style='left:214.82px;top:188.43px;font-size:14.5px;color:#231f20;transform:scaleX(0.9805);'>Pince à épiler</div><div class=t style='left:411.25px;top:151.03px;font-size:14.5px;color:#231f20;transform:scaleX(1.0512);'>Lotion pré-épilatoire</div><div class=t style='left:411.26px;top:170.33px;font-size:14.5px;color:#231f20;transform:scaleX(1.0354);'>Huile post-épilatoire</div><div class=t style='left:411.29px;top:188.63px;font-size:14.5px;color:#231f20;transform:scaleX(1.0106);'>Solvant</div><div class=t style='left:411.27px;top:207.23px;font-size:14.5px;color:#231f20;transform:scaleX(1.0331);'>Produit désinfectant</div><div class=t style='left:632.93px;top:9.98px;font-size:16.8px;color:#d2232a;transform:scaleX(0.8711);'>RAPPELS</div><div class=t style='left:581.02px;top:25.43px;font-size:14.5px;color:#231f20;transform:scaleX(0.9787);'>- En lien avec le cours</div><div class=t style='left:581.01px;top:43.93px;font-size:14.5px;color:#231f20;transform:scaleX(0.9870);'>- La cire doit être très épaisse.</div><div class=t style='left:584.90px;top:62.83px;font-size:14.5px;color:#231f20;transform:scaleX(1.0027);'>Formez un «bourrelet».</div><div class=t style='left:581.03px;top:81.63px;font-size:14.5px;color:#231f20;transform:scaleX(0.9674);'>- Retirez les bandes sèches</div><div class=t style='left:581.64px;top:99.93px;font-size:14.5px;color:#231f20;transform:scaleX(1.0649);'>rapidement.</div><div class=t style='left:580.99px;top:119.23px;font-size:14.5px;color:#231f20;transform:scaleX(1.0089);'>- Apaisez la douleur en</div><div class=t style='left:581.48px;top:138.53px;font-size:14.5px;color:#231f20;transform:scaleX(1.0244);'>appuyant avec votre main</div><div class=t style='left:581.48px;top:157.13px;font-size:14.5px;color:#231f20;transform:scaleX(1.0230);'>non-directrice sur la zone</div><div class=t style='left:581.49px;top:176.53px;font-size:14.5px;color:#231f20;transform:scaleX(1.0073);'>épilée.</div><div class=t style='left:31.40px;top:245.70px;font-size:22.8px;color:#43479a;transform:scaleX(0.8489);'>1. PREPARATION</div><div class=t style='left:59.45px;top:273.50px;font-size:22.8px;color:#43479a;transform:scaleX(0.9548);'>de la peau</div><div class=t style='left:10.36px;top:304.73px;font-size:14.5px;color:#231f20;transform:scaleX(1.0416);'>Lotion pré-pilatoire + cotons</div><div class=t style='left:10.21px;top:323.63px;font-size:14.5px;color:#231f20;transform:scaleX(0.9893);'>du bas vers le haut</div><div class=t style='left:10.24px;top:342.43px;font-size:14.5px;color:#231f20;transform:scaleX(0.9607);'>(vers le «coeur»)</div><div class=t style='left:275.61px;top:245.40px;font-size:22.8px;color:#43479a;transform:scaleX(0.8860);'>2. APPLICATION</div><div class=t style='left:292.57px;top:273.50px;font-size:22.8px;color:#43479a;transform:scaleX(0.9341);'>sur les côtés</div><div class=t style='left:226.09px;top:303.83px;font-size:14.5px;color:#231f20;transform:scaleX(1.0124);'>- Distale puis proximale.</div><div class=t style='left:226.12px;top:322.43px;font-size:14.5px;color:#231f20;transform:scaleX(0.9850);'>- Maximisez la surface de la cire</div><div class=t style='left:226.49px;top:341.53px;font-size:14.5px;color:#231f20;transform:scaleX(1.0135);'>(2 doigts en dessous du genoux,</div><div class=t style='left:226.46px;top:360.13px;font-size:14.5px;color:#231f20;transform:scaleX(1.0437);'>arrête du tibia, limite du mollet)</div><div class=t style='left:561.96px;top:246.20px;font-size:22.8px;color:#43479a;transform:scaleX(0.8385);'>2. RETRAIT</div><div class=t style='left:553.66px;top:273.80px;font-size:22.8px;color:#43479a;transform:scaleX(0.9397);'>sur les côtés</div><div class=t style='left:522.28px;top:304.43px;font-size:14.5px;color:#231f20;transform:scaleX(1.0182);'>- Proximale puis distale</div><div class=t style='left:522.28px;top:321.23px;font-size:14.5px;color:#231f20;transform:scaleX(1.0182);'>-</div><div class=t style='left:293.30px;top:528.03px;font-size:14.5px;color:#231f20;transform:scaleX(0.9951);'>Sens de la pousse du poil</div><div class=t style='left:293.30px;top:545.73px;font-size:14.5px;color:#231f20;transform:scaleX(1.0046);'>Sens de l’application de la cire</div><div class=t style='left:356.81px;top:570.01px;font-size:17px;color:#231f20;transform:scaleX(0.9882);'>Faire de même sur l’autre côté des jambes</div><div class=t style='left:562.79px;top:532.23px;font-size:14.5px;color:#231f20;transform:scaleX(1.0065);'>Sens du retrait</div><div class=t style='left:562.80px;top:551.13px;font-size:14.5px;color:#231f20;transform:scaleX(1.0000);'>de la cire</div><div class=t style='left:682.30px;top:441.23px;font-size:14.5px;color:#231f20;transform:scaleX(0.9632);'>Tenir les tissus</div><div class=t style='left:51.69px;top:609.70px;font-size:22.8px;color:#43479a;transform:scaleX(0.9127);'>3. De face</div><div class=t style='left:17.82px;top:642.83px;font-size:14.5px;color:#231f20;transform:scaleX(0.9760);'>Ne faire que si vous n’avez pas</div><div class=t style='left:17.19px;top:662.03px;font-size:14.5px;color:#231f20;transform:scaleX(1.0113);'>assez maximiser l’application</div><div class=t style='left:17.22px;top:680.93px;font-size:14.5px;color:#231f20;transform:scaleX(0.9767);'>de la cire sur les côtés.</div><div class=t style='left:408.10px;top:603.80px;font-size:22.8px;color:#43479a;transform:scaleX(0.8826);'>4. APPLICATION</div><div class=t style='left:413.24px;top:631.50px;font-size:22.8px;color:#43479a;transform:scaleX(0.9558);'>sur les genoux</div><div class=t style='left:341.80px;top:774.43px;font-size:14.5px;color:#231f20;transform:scaleX(1.0476);'>Application horizontale</div><div class=t style='left:340.82px;top:793.23px;font-size:14.5px;color:#231f20;transform:scaleX(0.9819);'>de la cire: Commencez par la</div><div class=t style='left:341.19px;top:811.73px;font-size:14.5px;color:#231f20;transform:scaleX(1.0077);'>partie basse, puis la partie haute</div><div class=t style='left:234.21px;top:866.50px;font-size:22.8px;color:#43479a;transform:scaleX(0.8906);'>5. APPLICATION</div><div class=t style='left:241.74px;top:894.00px;font-size:22.8px;color:#43479a;transform:scaleX(0.9604);'>sur les mollets</div><div class=t style='left:430.17px;top:866.50px;font-size:22.8px;color:#43479a;transform:scaleX(0.8320);'>5. RETRAIT</div><div class=t style='left:411.74px;top:894.00px;font-size:22.8px;color:#43479a;transform:scaleX(0.9639);'>sur les mollets</div><div class=t style='left:611.12px;top:865.90px;font-size:22.8px;color:#43479a;transform:scaleX(0.8824);'>6. FINITIONS</div><div class=t style='left:601.71px;top:923.53px;font-size:14.5px;color:#231f20;transform:scaleX(0.9941);'>- Enlever les petits</div><div class=t style='left:601.69px;top:942.23px;font-size:14.5px;color:#231f20;transform:scaleX(1.0106);'>morceaux de cire.</div><div class=t style='left:601.71px;top:960.93px;font-size:14.5px;color:#231f20;transform:scaleX(0.9893);'>- Finitions à la pince à</div><div class=t style='left:601.67px;top:979.53px;font-size:14.5px;color:#231f20;transform:scaleX(1.0297);'>épiler.</div><div class=t style='left:601.65px;top:998.23px;font-size:14.5px;color:#231f20;transform:scaleX(1.0518);'>- Application de l’huile</div><div class=t style='left:601.68px;top:1016.93px;font-size:14.5px;color:#231f20;transform:scaleX(1.0208);'>post-épilatoire sur la</div><div class=t style='left:601.68px;top:1036.13px;font-size:14.5px;color:#231f20;transform:scaleX(1.0211);'>zone épilée.</div><div class=t style='left:26.50px;top:802.87px;font-size:14.8px;color:#231f20;transform:scaleX(0.9971);'>Votre</div><div class=t style='left:25.90px;top:820.77px;font-size:14.8px;color:#231f20;transform:scaleX(0.9971);'>place</div><div class=t style='left:221.80px;top:736.07px;font-size:14.8px;color:#231f20;transform:scaleX(0.9971);'>Votre</div><div class=t style='left:221.70px;top:754.37px;font-size:14.8px;color:#231f20;transform:scaleX(0.9971);'>place</div><div class=t style='left:365.79px;top:703.03px;font-size:14.5px;color:#231f20;transform:scaleX(1.0052);'>Partie haute</div><div class=t style='left:481.83px;top:676.43px;font-size:14.5px;color:#231f20;transform:scaleX(0.9684);'>Partie basse</div><div class=t style='left:581.59px;top:689.13px;font-size:14.5px;color:#231f20;transform:scaleX(1.0130);'>Partie haute</div><div class=t style='left:694.42px;top:676.03px;font-size:14.5px;color:#231f20;transform:scaleX(0.9810);'>Partie basse</div><div class=t style='left:287.30px;top:1063.67px;font-size:14.8px;color:#231f20;transform:scaleX(1.0412);'>Votre</div><div class=t style='left:286.26px;top:1082.27px;font-size:14.8px;color:#231f20;transform:scaleX(1.0412);'>place</div><div class=t style='left:454.00px;top:1063.67px;font-size:14.8px;color:#231f20;transform:scaleX(1.0412);'>Votre</div><div class=t style='left:452.96px;top:1082.27px;font-size:14.8px;color:#231f20;transform:scaleX(1.0412);'>place</div><div class=t style='left:9.16px;top:982.16px;font-size:16px;color:#5c5c5c;transform:scaleX(1.2354);font-style:italic;font-family:"Liberation Serif";-webkit-text-stroke:0;'>www.esthetiquelibre.com</div>
</body></html>
